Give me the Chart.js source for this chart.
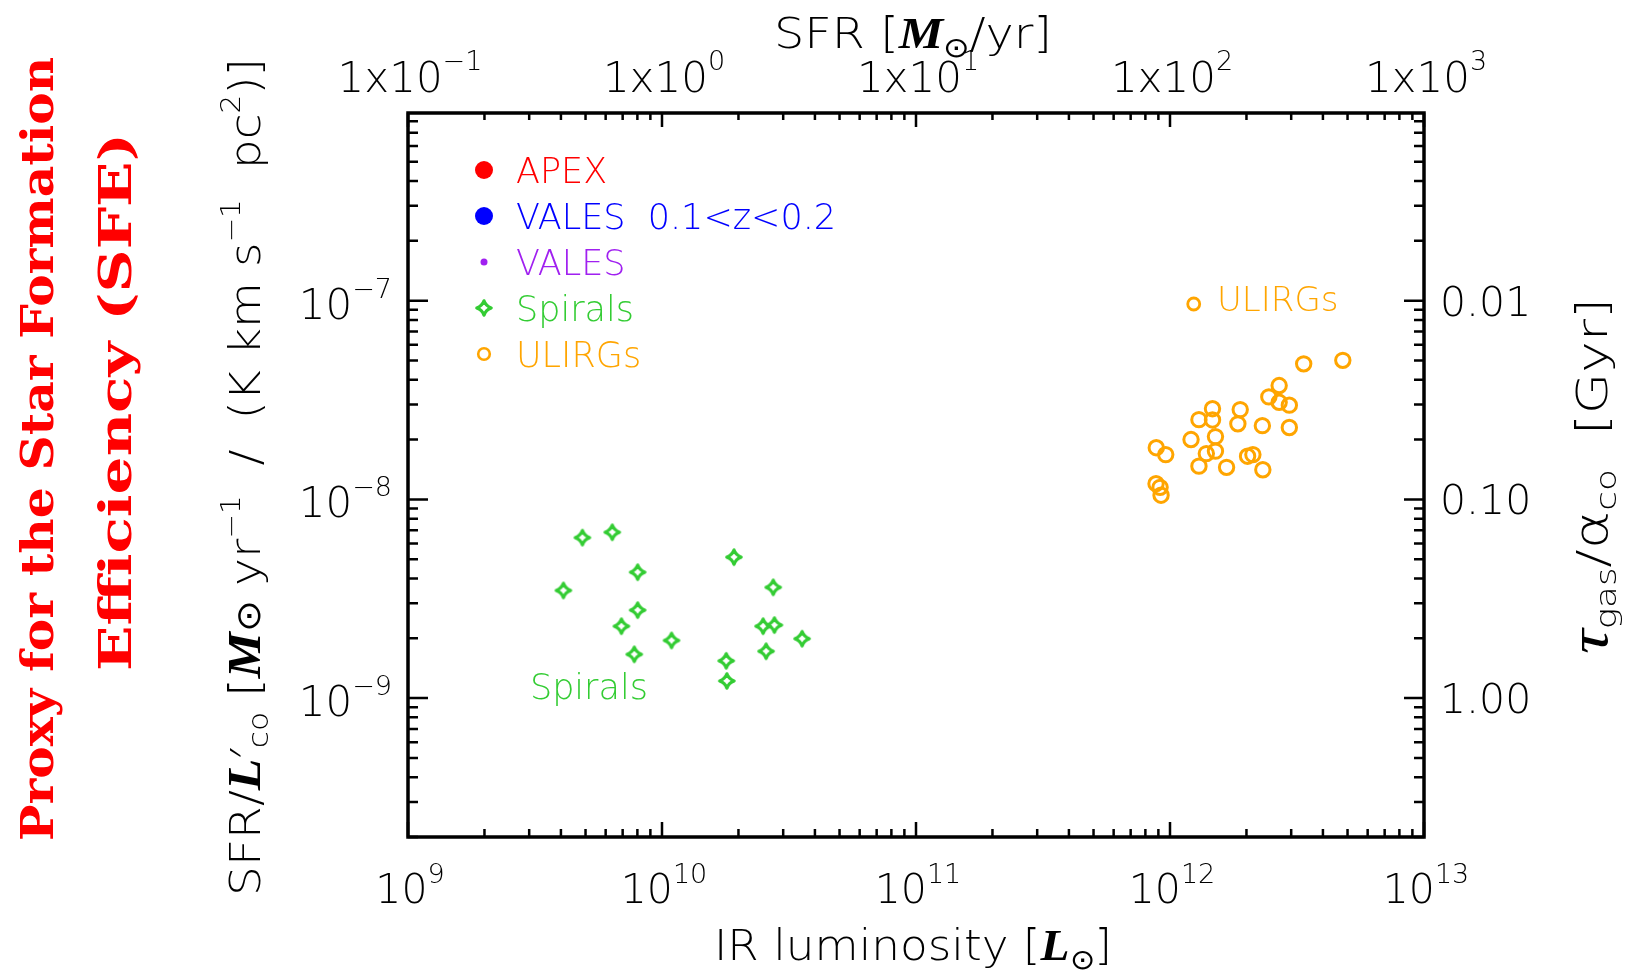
<!DOCTYPE html>
<html><head><meta charset="utf-8">
<script src="https://cdn.jsdelivr.net/npm/chart.js"></script>
<style>html,body{margin:0;padding:0;background:#fff;}canvas{display:block;}</style>
</head><body>
<canvas id="c" width="1633" height="970"></canvas>
<script>
// ---------------- data ----------------
const spiralsLIR = [4.09e9, 4.86e9, 6.37e9, 8.02e9, 8.02e9, 6.92e9, 7.78e9, 1.09e10, 1.92e10, 2.74e10, 2.50e10, 2.77e10, 3.56e10, 2.57e10, 1.79e10, 1.80e10];
const spiralsSFE = [3.48e-9, 6.42e-9, 6.83e-9, 4.30e-9, 2.77e-9, 2.30e-9, 1.66e-9, 1.95e-9, 5.12e-9, 3.61e-9, 2.30e-9, 2.33e-9, 1.99e-9, 1.72e-9, 1.54e-9, 1.22e-9];
const ulirgsLIR = [3.36e12, 4.79e12, 2.69e12, 2.45e12, 2.69e12, 2.95e12, 1.47e12, 1.89e12, 1.30e12, 1.47e12, 1.85e12, 2.31e12, 2.95e12, 1.21e12, 1.51e12, 8.83e11, 9.62e11, 1.51e12, 1.39e12, 2.02e12, 2.12e12, 1.30e12, 1.67e12, 2.32e12, 8.81e11, 9.14e11, 9.22e11];
const ulirgsSFE = [4.81e-8, 5.01e-8, 3.74e-8, 3.28e-8, 3.08e-8, 2.98e-8, 2.86e-8, 2.83e-8, 2.52e-8, 2.51e-8, 2.40e-8, 2.35e-8, 2.30e-8, 2.00e-8, 2.07e-8, 1.82e-8, 1.68e-8, 1.75e-8, 1.70e-8, 1.65e-8, 1.68e-8, 1.47e-8, 1.45e-8, 1.41e-8, 1.20e-8, 1.15e-8, 1.05e-8];
const apexLIR = [], apexSFE = [];
const valesZLIR = [], valesZSFE = [];
const valesLIR = [], valesSFE = [];
const ulirgKeyLIR = [1.24e12], ulirgKeySFE = [9.62e-8];

const seriesNames = ['APEX', 'VALES  0.1<z<0.2', 'VALES', 'Spirals', 'ULIRGs'];
const xTickValues = [1e9, 1e10, 1e11, 1e12, 1e13];
const xTickLabels = ['10^9', '10^10', '10^11', '10^12', '10^13'];
const sfrTickValues = [0.1, 1, 10, 100, 1000];
const sfrTickLabels = ['1x10^−1', '1x10^0', '1x10^1', '1x10^2', '1x10^3'];
const yTickValues = [1e-7, 1e-8, 1e-9];
const yTickLabels = ['10^−7', '10^−8', '10^−9'];
const tauTickValues = [0.01, 0.1, 1];
const tauTickLabels = ['0.01', '0.10', '1.00'];
const X_MIN = 1e9, X_MAX = 1e13, Y_MIN = 2.0e-10, Y_MAX = 8.8e-7;
// annotation anchors (data units)
const spiralsNoteAt = {x: 3.02e9, y: 9.9e-10, text: 'Spirals'};
const ulirgsNoteAt = {x: 1.53e12, y: 8.83e-8, text: 'ULIRGs'};

// ---------------- styles ----------------
const RED = '#ff0000', BLUE = '#0000ff', PURPLE = '#a020f0', GREEN = '#33cc33', ORANGE = '#ffa500';
const SANS = '"DejaVu Sans Light", "DejaVu Sans ExtraLight", "DejaVu Sans", "Open Sans", sans-serif';
const SERIF = '"DejaVu Serif", "Liberation Serif", serif';
const MATH = '"Liberation Serif", "DejaVu Serif", serif';
const W = '200 ';

function makeStar(color, r, lw) {
  const s = Math.ceil(2 * r + lw + 4);
  const c = document.createElement('canvas'); c.width = s; c.height = s;
  const g = c.getContext('2d'); const m = s / 2; const k = r * 0.26;
  g.strokeStyle = color; g.lineWidth = lw; g.lineJoin = 'round';
  g.beginPath();
  g.moveTo(m, m - r);
  g.quadraticCurveTo(m + k, m - k, m + r, m);
  g.quadraticCurveTo(m + k, m + k, m, m + r);
  g.quadraticCurveTo(m - k, m + k, m - r, m);
  g.quadraticCurveTo(m - k, m - k, m, m - r);
  g.closePath(); g.stroke();
  return c;
}
const starImg = makeStar(GREEN, 7.2, 3.2);

const pts = (xs, ys) => xs.map((v, i) => ({x: v, y: ys[i]}));

const datasets = [
  {label: seriesNames[0], data: pts(apexLIR, apexSFE), pointStyle: 'circle', backgroundColor: RED, borderColor: RED, pointRadius: 9, borderWidth: 0, key: {r: 9, fill: true}},
  {label: seriesNames[1], data: pts(valesZLIR, valesZSFE), pointStyle: 'circle', backgroundColor: BLUE, borderColor: BLUE, pointRadius: 9, borderWidth: 0, key: {r: 9, fill: true}},
  {label: seriesNames[2], data: pts(valesLIR, valesSFE), pointStyle: 'circle', backgroundColor: PURPLE, borderColor: PURPLE, pointRadius: 3.5, borderWidth: 0, key: {r: 3.5, fill: true}},
  {label: seriesNames[3], data: pts(spiralsLIR, spiralsSFE), pointStyle: starImg, backgroundColor: GREEN, borderColor: GREEN, pointRadius: 8, key: {img: true}},
  {label: seriesNames[4], data: pts(ulirgsLIR, ulirgsSFE), pointStyle: 'circle', backgroundColor: 'rgba(0,0,0,0)', borderColor: ORANGE, pointRadius: 7.2, borderWidth: 3, key: {r: 5.8, fill: false, lw: 2.6}},
  {label: 'ULIRGs key', data: pts(ulirgKeyLIR, ulirgKeySFE), pointStyle: 'circle', backgroundColor: 'rgba(0,0,0,0)', borderColor: ORANGE, pointRadius: 6, borderWidth: 2.8, noLegend: true}
];

// ------------- text helper -------------
function drawRuns(ctx, runs, x, y, o) {
  o = o || {};
  ctx.save();
  ctx.translate(x, y);
  if (o.rotate) ctx.rotate(o.rotate);
  const w = runs.map(r => { ctx.font = r.font; return ctx.measureText(r.text).width; });
  const total = w.reduce((a, b) => a + b, 0);
  const sx = o.length ? o.length / total : 1;
  ctx.scale(sx, 1);
  let cx = o.align === 'center' ? -total / 2 : (o.align === 'right' ? -total : 0);
  ctx.textAlign = 'left'; ctx.textBaseline = 'alphabetic';
  ctx.fillStyle = o.color || '#000';
  runs.forEach((r, i) => { ctx.font = r.font; ctx.fillText(r.text, cx, r.dy || 0); cx += w[i]; });
  ctx.restore();
}
function supRuns(label, baseSize, supSize, supDy) {
  const [b, e] = label.split('^');
  const runs = [{text: b, font: W + baseSize + 'px ' + SANS}];
  if (e !== undefined) runs.push({text: e, font: W + supSize + 'px ' + SANS, dy: supDy});
  return runs;
}
function logTicks(min, max) {
  const out = [];
  for (let e = Math.floor(Math.log10(min)) - 1; e <= Math.ceil(Math.log10(max)); e++)
    for (let m = 1; m < 10; m++) {
      const v = m * Math.pow(10, e);
      if (v >= min * 0.9999 && v <= max * 1.0001) out.push({v: v, major: m === 1});
    }
  return out;
}

const framePlugin = {
  id: 'frame',
  afterDatasetsDraw(chart) {
    const ctx = chart.ctx, a = chart.chartArea;
    const sx = chart.scales.x, sx2 = chart.scales.x2, sy = chart.scales.y, sy2 = chart.scales.y2;
    ctx.save();
    // ticks
    ctx.strokeStyle = '#000'; ctx.lineWidth = 2.5; ctx.lineCap = 'butt';
    ctx.beginPath();
    logTicks(X_MIN, X_MAX).forEach(t => {
      const p = sx.getPixelForValue(t.v);
      ctx.moveTo(p, a.bottom); ctx.lineTo(p, a.bottom - (t.major ? 15 : 8));
    });
    logTicks(sx2.min, sx2.max).forEach(t => {
      const p = sx2.getPixelForValue(t.v);
      ctx.moveTo(p, a.top); ctx.lineTo(p, a.top + (t.major ? 14 : 7));
    });
    logTicks(Y_MIN, Y_MAX).forEach(t => {
      const p = sy.getPixelForValue(t.v);
      ctx.moveTo(a.left, p); ctx.lineTo(a.left + (t.major ? 20 : 10), p);
      ctx.moveTo(a.right, p); ctx.lineTo(a.right - (t.major ? 20 : 10), p);
    });
    ctx.stroke();
    // box
    ctx.lineWidth = 3.5;
    ctx.strokeRect(a.left, a.top, a.right - a.left, a.bottom - a.top);

    // tick labels
    xTickValues.forEach((v, i) => drawRuns(ctx, supRuns(xTickLabels[i], 41, 27, -20), sx.getPixelForValue(v) + 2, 903, {align: 'center'}));
    sfrTickValues.forEach((v, i) => drawRuns(ctx, supRuns(sfrTickLabels[i], 42, 27, -22), sx2.getPixelForValue(v) + 2, 92, {align: 'center'}));
    yTickValues.forEach((v, i) => drawRuns(ctx, supRuns(yTickLabels[i], 42, 27, -21), 392, sy.getPixelForValue(v) + 18, {align: 'right'}));
    tauTickValues.forEach((v, i) => drawRuns(ctx, [{text: tauTickLabels[i], font: W + '41px ' + SANS}], 1440, sy2.getPixelForValue(v) + 15, {align: 'left'}));

    // axis titles
    const S42 = W + '42px ' + SANS, SUB = W + '28px ' + SANS, SUP = W + '26px ' + SANS;
    drawRuns(ctx, [
      {text: 'IR luminosity [', font: S42},
      {text: 'L', font: 'italic bold 44px ' + MATH},
      {text: '⊙', font: SUB, dy: 9},
      {text: ']', font: S42}
    ], 913, 960, {align: 'center', length: 398});
    drawRuns(ctx, [
      {text: 'SFR [', font: S42},
      {text: 'M', font: 'italic bold 44px ' + MATH},
      {text: '⊙', font: SUB, dy: 9},
      {text: '/yr]', font: S42}
    ], 913, 48, {align: 'center', length: 278});
    drawRuns(ctx, [
      {text: 'SFR/', font: S42},
      {text: 'L', font: 'italic bold 46px ' + MATH},
      {text: '′', font: S42},
      {text: 'co', font: SUB, dy: 8},
      {text: ' [', font: S42},
      {text: 'M', font: 'italic bold 46px ' + MATH},
      {text: '⊙', font: W + '34px ' + SANS},
      {text: ' yr', font: S42},
      {text: '−1', font: SUP, dy: -20},
      {text: '  /  (K km s', font: S42},
      {text: '−1', font: SUP, dy: -20},
      {text: '  pc', font: S42},
      {text: '2', font: SUP, dy: -20},
      {text: ')]', font: S42}
    ], 260, 477, {align: 'center', rotate: -Math.PI / 2, length: 838});
    drawRuns(ctx, [
      {text: 'τ', font: 'italic 54px ' + MATH},
      {text: 'gas', font: SUB, dy: 9},
      {text: '/', font: S42},
      {text: 'α', font: W + '46px ' + SANS},
      {text: 'co', font: SUB, dy: 9},
      {text: '  [Gyr]', font: S42}
    ], 1607, 476, {align: 'center', rotate: -Math.PI / 2, length: 356});

    // red proxy title
    drawRuns(ctx, [{text: 'Proxy for the Star Formation', font: 'bold 44px ' + SERIF}], 53, 449, {align: 'center', rotate: -Math.PI / 2, length: 784, color: RED});
    drawRuns(ctx, [{text: 'Efficiency (SFE)', font: 'bold 44px ' + SERIF}], 131, 402, {align: 'center', rotate: -Math.PI / 2, length: 538, color: RED});

    // legend
    let ly = 170;
    chart.data.datasets.forEach(ds => {
      if (ds.noLegend) return;
      const k = ds.key, mx = 484;
      if (k.img) {
        ctx.drawImage(ds.pointStyle, mx - ds.pointStyle.width / 2, ly - ds.pointStyle.height / 2);
      } else {
        ctx.beginPath(); ctx.arc(mx, ly, k.r, 0, Math.PI * 2);
        if (k.fill) { ctx.fillStyle = ds.backgroundColor; ctx.fill(); }
        else { ctx.strokeStyle = ds.borderColor; ctx.lineWidth = k.lw; ctx.stroke(); }
      }
      drawRuns(ctx, [{text: ds.label, font: W + '35px ' + SANS}], 516, ly + 13, {color: ds.borderColor});
      ly += 46;
    });

    // in-plot annotations
    drawRuns(ctx, [{text: spiralsNoteAt.text, font: W + '35px ' + SANS}], sx.getPixelForValue(spiralsNoteAt.x), sy.getPixelForValue(spiralsNoteAt.y), {color: GREEN});
    drawRuns(ctx, [{text: ulirgsNoteAt.text, font: W + '34px ' + SANS}], sx.getPixelForValue(ulirgsNoteAt.x), sy.getPixelForValue(ulirgsNoteAt.y), {color: ORANGE});
    ctx.restore();
  }
};

new Chart(document.getElementById('c'), {
  type: 'scatter',
  data: {datasets: datasets},
  options: {
    responsive: false, animation: false, devicePixelRatio: 1,
    layout: {padding: {left: 408, right: 209, top: 113, bottom: 133}},
    plugins: {legend: {display: false}, tooltip: {enabled: false}},
    scales: {
      x: {type: 'logarithmic', position: 'bottom', min: X_MIN, max: X_MAX, display: false},
      x2: {type: 'logarithmic', position: 'top', min: X_MIN * 1e-10, max: X_MAX * 1e-10, display: false},
      y: {type: 'logarithmic', position: 'left', min: Y_MIN, max: Y_MAX, display: false},
      y2: {type: 'logarithmic', position: 'right', min: 1e-9 / Y_MAX, max: 1e-9 / Y_MIN, reverse: true, display: false}
    }
  },
  plugins: [framePlugin]
});
</script>
</body></html>
